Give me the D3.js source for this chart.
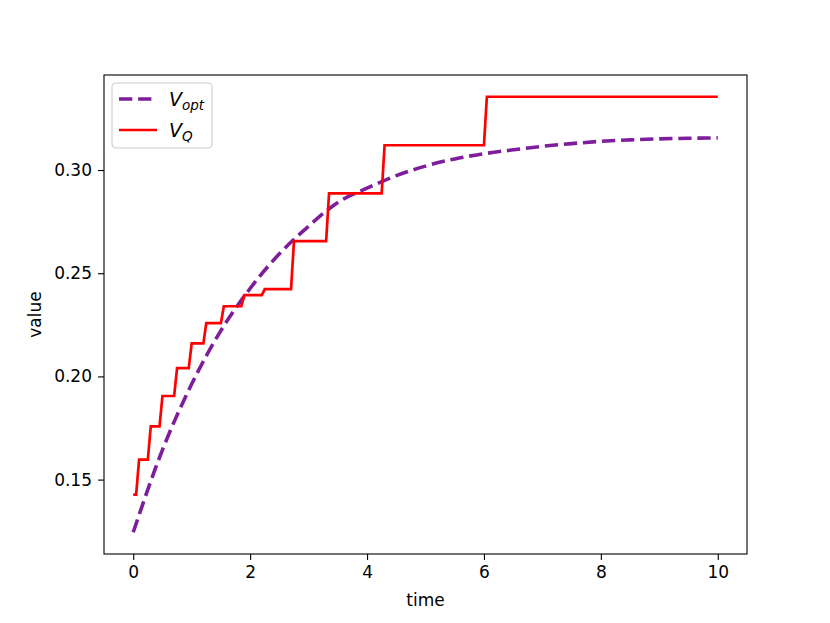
<!DOCTYPE html>
<html>
<head>
<meta charset="utf-8">
<script src="https://cdn.jsdelivr.net/npm/d3@7"></script>
<style>
  body { margin: 0; background: #fff; }
  svg { display: block; font-family: "DejaVu Sans", sans-serif; }
</style>
</head>
<body>
<svg id="chart" width="830" height="623"></svg>
<script>
// ---- data ----
const optTimes  = [0, 0.5, 1.0, 1.5, 2.0, 2.5, 3.0, 3.5, 4.0, 4.5, 5.0, 5.5, 6.0, 6.5, 7.0, 7.5, 8.0, 8.5, 9.0, 9.5, 10.0];
const optValues = [0.1245, 0.1644, 0.1963, 0.2222, 0.2426, 0.2594, 0.2728, 0.2843, 0.2912, 0.2973, 0.3019, 0.3054, 0.3079, 0.3098, 0.3115, 0.3128, 0.3139, 0.3146, 0.3151, 0.3154, 0.3156];

const qTimes  = [0, 0.05, 0.10, 0.25, 0.30, 0.45, 0.50, 0.70, 0.75, 0.95, 1.00, 1.20, 1.25, 1.50, 1.55, 1.85, 1.90, 2.20, 2.25, 2.70, 2.75, 3.30, 3.35, 4.25, 4.30, 6.00, 6.05, 10.0];
const qValues = [0.1427, 0.1427, 0.1597, 0.1597, 0.1758, 0.1758, 0.1905, 0.1905, 0.2040, 0.2040, 0.2160, 0.2160, 0.2258, 0.2258, 0.2340, 0.2340, 0.2394, 0.2394, 0.2423, 0.2423, 0.2656, 0.2656, 0.2887, 0.2887, 0.3120, 0.3120, 0.3355, 0.3355];

const xTicks = [0, 2, 4, 6, 8, 10];
const yTicks = [0.15, 0.20, 0.25, 0.30];
const xLabel = "time";
const yLabel = "value";

// ---- layout ----
const W = 830, H = 623;
const margin = { left: 104, right: 83, top: 75, bottom: 69 };
const iw = W - margin.left - margin.right;
const ih = H - margin.top - margin.bottom;

const svg = d3.select("#chart");
const g = svg.append("g").attr("transform", `translate(${margin.left},${margin.top})`);

// matplotlib-like 5% padding
const xMin = d3.min(optTimes.concat(qTimes)), xMax = d3.max(optTimes.concat(qTimes));
const yMin = d3.min(optValues.concat(qValues)), yMax = d3.max(optValues.concat(qValues));
const xPad = (xMax - xMin) * 0.05, yPad = (yMax - yMin) * 0.05;

const x = d3.scaleLinear().domain([xMin - xPad, xMax + xPad]).range([0, iw]);
const y = d3.scaleLinear().domain([yMin - yPad, yMax + yPad]).range([ih, 0]);

const fontSize = 17;

// axes
const xAxis = d3.axisBottom(x).tickValues(xTicks).tickFormat(d3.format("d")).tickSizeOuter(0).tickSize(6).tickPadding(6);
const yAxis = d3.axisLeft(y).tickValues(yTicks).tickFormat(d3.format(".2f")).tickSizeOuter(0).tickSize(6).tickPadding(6);

const gx = g.append("g").attr("transform", `translate(0,${ih})`).call(xAxis);
const gy = g.append("g").call(yAxis);
[gx, gy].forEach(a => {
  a.select(".domain").remove();
  a.selectAll(".tick line").attr("stroke", "#000").attr("stroke-width", 1.1);
  a.selectAll(".tick text").attr("fill", "#000").style("font-size", fontSize + "px").style("font-family", "DejaVu Sans, sans-serif");
});

// lines
const clip = svg.append("defs").append("clipPath").attr("id", "clip")
  .append("rect").attr("width", iw).attr("height", ih);

const lineOpt = d3.line().x(i => x(optTimes[i])).y(i => y(optValues[i])).curve(d3.curveMonotoneX);
const lineQ = d3.line().x(i => x(qTimes[i])).y(i => y(qValues[i]));

const plot = g.append("g").attr("clip-path", "url(#clip)");
plot.append("path")
  .attr("d", lineOpt(d3.range(optTimes.length)))
  .attr("fill", "none").attr("stroke", "#7e1e9c").attr("stroke-width", 3.6)
  .attr("stroke-dasharray", "13.3,5.8");
plot.append("path")
  .attr("d", lineQ(d3.range(qTimes.length)))
  .attr("fill", "none").attr("stroke", "#ff0000").attr("stroke-width", 2.7)
  .attr("stroke-linejoin", "miter");

// frame
g.append("rect").attr("width", iw).attr("height", ih)
  .attr("fill", "none").attr("stroke", "#000").attr("stroke-width", 1.1);

// axis labels
svg.append("text").attr("x", margin.left + iw / 2).attr("y", 606)
  .attr("text-anchor", "middle").style("font-size", fontSize + "px").text(xLabel);
svg.append("text").attr("transform", `translate(41,${margin.top + ih / 2}) rotate(-90)`)
  .attr("text-anchor", "middle").style("font-size", fontSize + "px").text(yLabel);

// legend
const lg = g.append("g").attr("transform", "translate(8,8)");
lg.append("rect").attr("width", 100).attr("height", 65).attr("rx", 4)
  .attr("fill", "#fff").attr("fill-opacity", 0.8).attr("stroke", "#cccccc").attr("stroke-width", 1.1);
const items = [
  { sub: "opt", color: "#7e1e9c", dash: "13.3,5.8", w: 3.6 },
  { sub: "Q", color: "#ff0000", dash: null, w: 2.7 }
];
items.forEach((it, i) => {
  const yy = 16 + i * 31;
  lg.append("line").attr("x1", 7).attr("x2", 45).attr("y1", yy).attr("y2", yy)
    .attr("stroke", it.color).attr("stroke-width", it.w)
    .attr("stroke-dasharray", it.dash);
  const t = lg.append("text").attr("x", 57).attr("y", yy + 7)
    .style("font-size", "19px").style("font-style", "italic");
  t.append("tspan").text("V");
  t.append("tspan").attr("dy", 4).style("font-size", "13.5px").text(it.sub);
});
</script>
</body>
</html>
